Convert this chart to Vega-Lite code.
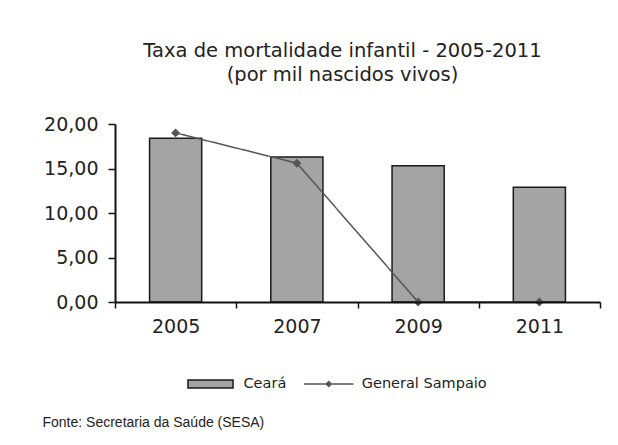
{
  "$schema": "https://vega.github.io/schema/vega-lite/v6.json",
  "width": 485,
  "height": 178,
  "autosize": {"type": "none"},
  "padding": {"left": 115, "top": 124, "right": 18, "bottom": 143},
  "background": "white",
  "config": {"view": {"stroke": null}},
  "title": {
    "text": ["Taxa de mortalidade infantil - 2005-2011", "(por mil nascidos vivos)"],
    "font": "DejaVu Sans",
    "fontSize": 19.5,
    "fontWeight": "normal",
    "color": "#222222",
    "anchor": "middle",
    "frame": "group",
    "dx": -15,
    "lineHeight": 24,
    "offset": 30
  },
  "data": {
    "values": [
      {"ano": "2005", "serie": "Ceará", "valor": 18.4},
      {"ano": "2007", "serie": "Ceará", "valor": 16.3},
      {"ano": "2009", "serie": "Ceará", "valor": 15.3},
      {"ano": "2011", "serie": "Ceará", "valor": 12.9},
      {"ano": "2005", "serie": "General Sampaio", "valor": 19.0},
      {"ano": "2007", "serie": "General Sampaio", "valor": 15.6},
      {"ano": "2009", "serie": "General Sampaio", "valor": 0},
      {"ano": "2011", "serie": "General Sampaio", "valor": 0}
    ]
  },
  "encoding": {
    "x": {
      "field": "ano",
      "type": "ordinal",
      "scale": {"paddingInner": 0, "paddingOuter": 0},
      "axis": {
        "labelAngle": 0,
        "labelFont": "DejaVu Sans",
        "labelFontSize": 19,
        "labelColor": "#222222",
        "labelPadding": 9,
        "tickBand": "extent",
        "tickSize": 6,
        "tickWidth": 1.5,
        "tickColor": "#111111",
        "domainColor": "#111111",
        "domainWidth": 2,
        "zindex": 1,
        "title": "Fonte: Secretaria da Saúde (SESA)",
        "titleFont": "Liberation Sans",
        "titleFontSize": 14,
        "titleFontWeight": "normal",
        "titleColor": "#222222",
        "titleAlign": "left",
        "titleAnchor": "start",
        "titleBaseline": "alphabetic",
        "titleX": -73,
        "titleY": 124
      }
    }
  },
  "layer": [
    {
      "transform": [{"filter": "datum.serie === 'Ceará'"}],
      "mark": {"type": "bar", "width": {"band": 0.43}, "stroke": "#1a1a1a", "strokeWidth": 1.5},
      "encoding": {
        "y": {
          "field": "valor",
          "type": "quantitative",
          "scale": {"domain": [0, 20], "nice": false},
          "axis": {
            "title": null,
            "values": [0, 5, 10, 15, 20],
            "labelExpr": "replace(format(datum.value, '.2f'), '.', ',')",
            "labelFont": "DejaVu Sans",
            "labelFontSize": 19,
            "labelColor": "#222222",
            "labelPadding": 10,
            "tickSize": 7,
            "tickWidth": 1.5,
            "tickColor": "#111111",
            "domainColor": "#111111",
            "domainWidth": 2,
            "grid": false,
            "zindex": 1
          }
        },
        "color": {
          "field": "serie",
          "type": "nominal",
          "scale": {"domain": ["Ceará"], "range": ["#a4a4a4"]},
          "legend": {
            "title": null,
            "orient": "none",
            "direction": "horizontal",
            "legendX": 79.5,
            "legendY": 244,
            "symbolType": "M-1.5,-0.27H1.5V0.27H-1.5Z",
            "symbolSize": 900,
            "symbolStrokeColor": "#1a1a1a",
            "symbolStrokeWidth": 1.5,
            "labelFont": "DejaVu Sans",
            "labelFontSize": 14.5,
            "labelColor": "#222222",
            "labelOffset": 17
          }
        }
      }
    },
    {
      "transform": [{"filter": "datum.serie === 'General Sampaio'"}],
      "mark": {
        "type": "line",
        "color": "#555555",
        "strokeWidth": 1.5,
        "point": {"shape": "diamond", "size": 80, "filled": true, "color": "#555555"}
      },
      "encoding": {
        "y": {"field": "valor", "type": "quantitative"},
        "strokeDash": {
          "field": "serie",
          "type": "nominal",
          "scale": {"domain": ["General Sampaio"], "range": [[1, 0]]},
          "legend": {
            "title": null,
            "orient": "none",
            "direction": "horizontal",
            "legendX": 197.75,
            "legendY": 244,
            "symbolType": "M-1.65,-0.045H1.65V0.045H-1.65Z M0,-0.24L0.24,0L0,0.24L-0.24,0Z",
            "symbolSize": 900,
            "symbolStrokeColor": "#555555",
            "symbolFillColor": "#555555",
            "symbolStrokeWidth": 1.5,
            "labelFont": "DejaVu Sans",
            "labelFontSize": 14.5,
            "labelColor": "#222222",
            "labelOffset": 17
          }
        }
      }
    }
  ]
}
